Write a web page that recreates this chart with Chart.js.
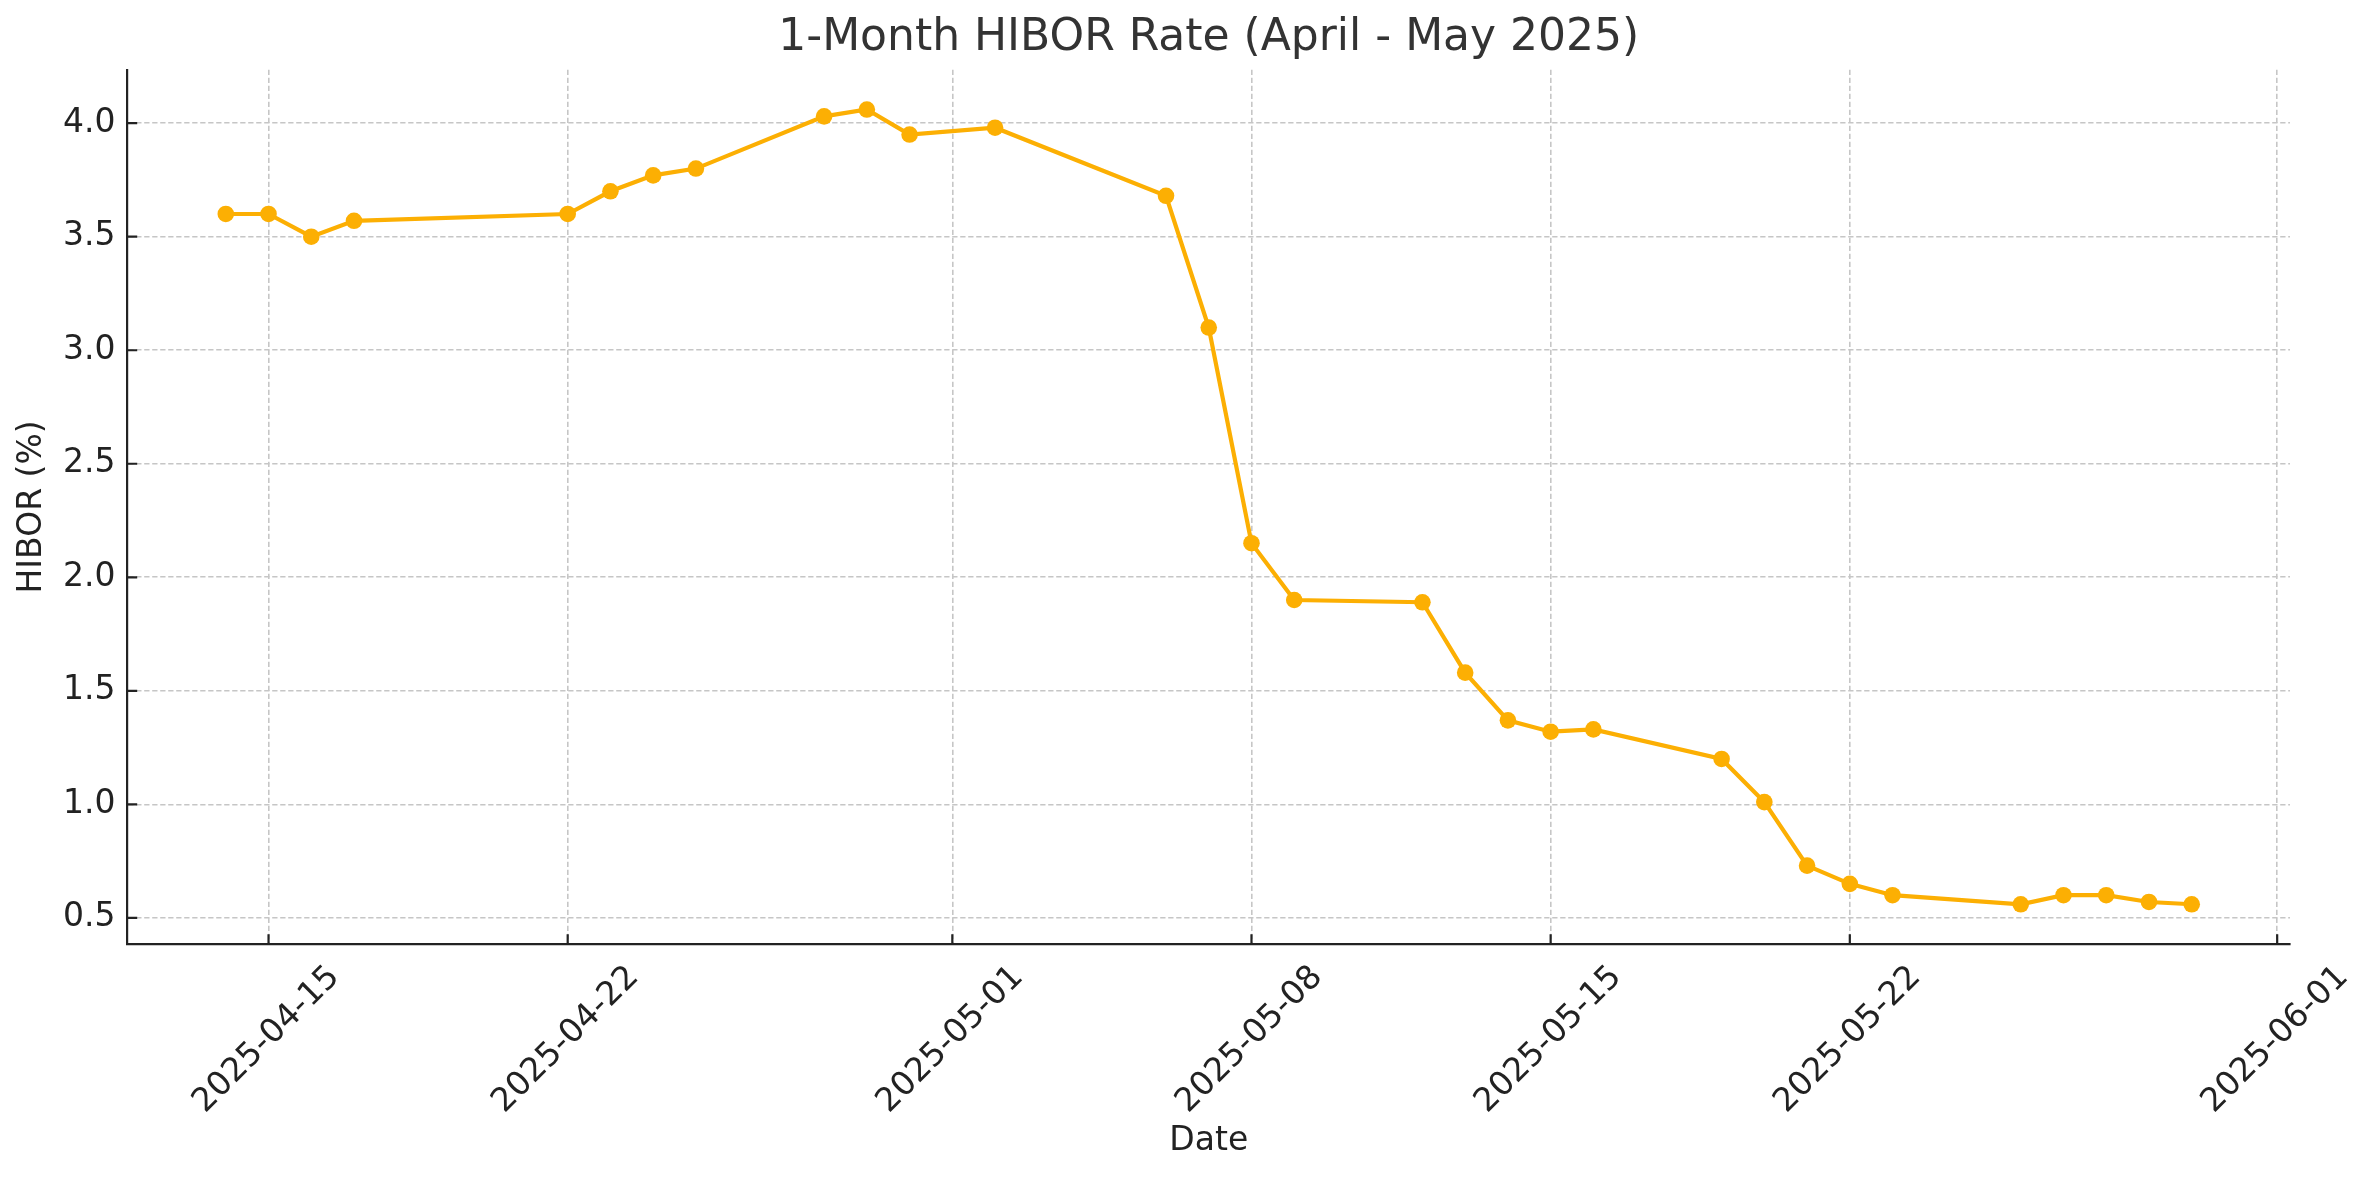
<!DOCTYPE html>
<html>
<head>
<meta charset="utf-8">
<script src="https://cdn.jsdelivr.net/npm/chart.js@4/dist/chart.umd.min.js"></script>
<style>
  body { margin: 0; background: #fff; }
  #wrap { width: 2378px; height: 1180px; }
</style>
</head>
<body>
<div id="wrap"><canvas id="myChart" width="2378" height="1180"></canvas></div>
<script>
// data
const dates = [
  '2025-04-14', '2025-04-15', '2025-04-16', '2025-04-17', '2025-04-22', '2025-04-23',
  '2025-04-24', '2025-04-25', '2025-04-28', '2025-04-29', '2025-04-30', '2025-05-02',
  '2025-05-06', '2025-05-07', '2025-05-08', '2025-05-09', '2025-05-12', '2025-05-13',
  '2025-05-14', '2025-05-15', '2025-05-16', '2025-05-19', '2025-05-20', '2025-05-21',
  '2025-05-22', '2025-05-23', '2025-05-26', '2025-05-27', '2025-05-28', '2025-05-29',
  '2025-05-30'
];
const hibor = [
  3.60, 3.60, 3.50, 3.57, 3.60, 3.70,
  3.77, 3.80, 4.03, 4.06, 3.95, 3.98,
  3.68, 3.10, 2.15, 1.90, 1.89, 1.58,
  1.37, 1.32, 1.33, 1.20, 1.01, 0.73,
  0.65, 0.60, 0.56, 0.60, 0.60, 0.57,
  0.56
];
const xTickLabels = ['2025-04-15', '2025-04-22', '2025-05-01', '2025-05-08', '2025-05-15', '2025-05-22', '2025-06-01'];
const yTickValues = [0.5, 1.0, 1.5, 2.0, 2.5, 3.0, 3.5, 4.0];

const DAY = 86400000;
const toDay = s => Date.parse(s) / DAY;
const fmtDay = v => new Date(Math.round(v) * DAY).toISOString().slice(0, 10);

// matplotlib-like 5% margins
const xs = dates.map(toDay);
const xPad = (Math.max(...xs) - Math.min(...xs)) * 0.05;
const yPad = (Math.max(...hibor) - Math.min(...hibor)) * 0.05;

const lineColor = '#fcaf03';
const axisColor = '#222222';
const gridColor = '#c6c6c6';

Chart.defaults.font.family = 'DejaVu Sans';
Chart.defaults.color = '#222';

// small inward tick marks like the original
const innerTicks = {
  id: 'innerTicks',
  afterDraw(chart) {
    const {ctx, chartArea, scales} = chart;
    ctx.save();
    ctx.strokeStyle = axisColor;
    ctx.lineWidth = 2.2;
    ctx.beginPath();
    scales.x.ticks.forEach(t => {
      const px = scales.x.getPixelForValue(t.value);
      ctx.moveTo(px, chartArea.bottom);
      ctx.lineTo(px, chartArea.bottom - 9.7);
    });
    scales.y.ticks.forEach(t => {
      const py = scales.y.getPixelForValue(t.value);
      ctx.moveTo(chartArea.left, py);
      ctx.lineTo(chartArea.left + 9.7, py);
    });
    ctx.stroke();
    ctx.restore();
  }
};

const ctx = document.getElementById('myChart').getContext('2d');
let myChart = new Chart(ctx, {
  type: 'line',
  data: {
    datasets: [{
      label: '1-Month HIBOR',
      data: dates.map((d, i) => ({x: toDay(d), y: hibor[i]})),
      borderColor: lineColor,
      backgroundColor: lineColor,
      borderWidth: 4.2,
      pointRadius: 8.3,
      pointBorderWidth: 0,
      pointBackgroundColor: lineColor,
      tension: 0
    }]
  },
  options: {
    responsive: false,
    animation: false,
    devicePixelRatio: 1,
    layout: { padding: { left: 10, right: 88, top: 0, bottom: 0 } },
    plugins: {
      legend: { display: false },
      tooltip: { enabled: false },
      title: {
        display: true,
        text: '1-Month HIBOR Rate (April - May 2025)',
        fullSize: false,
        color: '#333',
        font: { size: 44, weight: 'normal' },
        padding: { top: 12, bottom: 5 }
      }
    },
    scales: {
      x: {
        type: 'linear',
        min: Math.min(...xs) - xPad,
        max: Math.max(...xs) + xPad,
        afterBuildTicks: scale => {
          scale.ticks = xTickLabels.map(s => ({ value: toDay(s) }));
        },
        afterFit: scale => { scale.height = 236; },
        ticks: {
          autoSkip: false,
          minRotation: 45,
          maxRotation: 45,
          padding: 14,
          labelOffset: 66,
          font: { size: 33 },
          color: '#222',
          callback: v => fmtDay(v)
        },
        grid: { color: gridColor, lineWidth: 1.6, drawTicks: false },
        border: { display: true, color: axisColor, width: 2.2, dash: [5.3, 2.7] },
        title: {
          display: true,
          text: 'Date',
          font: { size: 33 },
          color: '#222',
          padding: { top: 4, bottom: 19 }
        }
      },
      y: {
        min: Math.min(...hibor) - yPad,
        max: Math.max(...hibor) + yPad,
        afterBuildTicks: scale => {
          scale.ticks = yTickValues.map(v => ({ value: v }));
        },
        afterFit: scale => { scale.width = 117.5; },
        ticks: {
          padding: 12,
          font: { size: 33 },
          color: '#222',
          callback: v => v.toFixed(1)
        },
        grid: { color: gridColor, lineWidth: 1.6, drawTicks: false },
        border: { display: true, color: axisColor, width: 2.2, dash: [5.3, 2.7] },
        title: {
          display: true,
          text: 'HIBOR (%)',
          font: { size: 33 },
          color: '#222',
          padding: { top: 3, bottom: 4 }
        }
      }
    }
  },
  plugins: [innerTicks]
});
</script>
</body>
</html>
